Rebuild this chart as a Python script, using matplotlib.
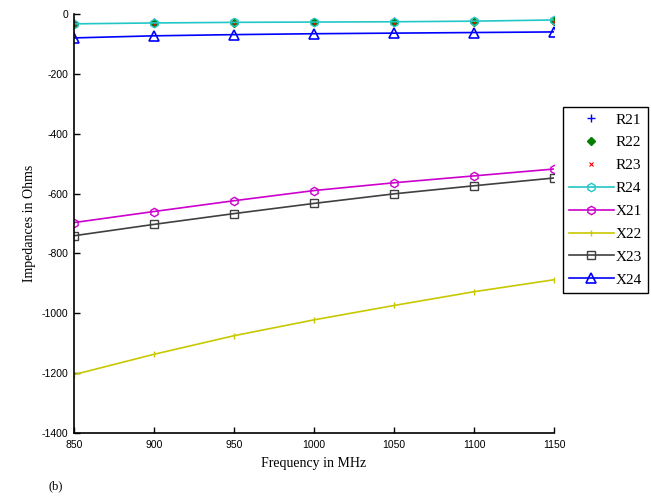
import matplotlib
matplotlib.use("Agg")
import matplotlib.pyplot as plt

plt.rcParams["axes.unicode_minus"] = False

# ── Data ──────────────────────────────────────────────────────────────────────
freq = [850, 900, 950, 1000, 1050, 1100, 1150]

r21 = [-30, -28, -27, -26, -25, -24, -22]
r22 = [-32, -30, -29, -28, -27, -26, -24]
r23 = [-35, -33, -31, -30, -29, -28, -26]
r24 = [-33, -30, -28, -27, -26, -24, -20]
x21 = [-697, -660, -624, -590, -564, -541, -518]
x22 = [-1205, -1137, -1075, -1022, -974, -928, -888]
x23 = [-741, -703, -667, -633, -601, -574, -548]
x24 = [-80, -73, -69, -66, -64, -62, -60]

yticks = [-1400, -1200, -1000, -800, -600, -400, -200, 0]

SERIF = ["Liberation Serif", "DejaVu Serif"]
SANS = ["Liberation Sans", "DejaVu Sans"]

fig = plt.figure(figsize=(6.51, 4.99), dpi=100, facecolor="white")
ax = fig.add_axes([0.1137, 0.1323, 0.7373, 0.8397])

ax.plot(freq, r21, linestyle="none", marker="+", color="#0000ff", ms=6, mew=1.0, label="R21")
ax.plot(freq, r22, linestyle="none", marker="D", color="#007f00", ms=4, label="R22")
ax.plot(freq, r23, linestyle="none", marker="x", color="#ff0000", ms=3.5, mew=0.8, label="R23")
ax.plot(freq, r24, color="#22c6c6", lw=1.2, marker="h", ms=6, mfc="none", mew=1.0, label="R24")
ax.plot(freq, x21, color="#cc00cc", lw=1.2, marker="h", ms=6, mfc="none", mew=1.0, label="X21")
ax.plot(freq, x22, color="#c8c800", lw=1.2, marker="|", ms=4, mew=1.0, label="X22")
ax.plot(freq, x23, color="#404040", lw=1.2, marker="s", ms=6, mfc="none", mew=1.0, label="X23")
ax.plot(freq, x24, color="#0000ff", lw=1.2, marker="^", ms=7, mfc="none", mew=1.2, label="X24")

ax.set_xlim(850, 1150)
ax.set_ylim(-1400, 0)
ax.set_xticks(freq)
ax.set_yticks(yticks)
ax.tick_params(direction="in", length=4, width=1, labelsize=7.5)
ax.tick_params(axis="x", pad=5)
ax.tick_params(axis="y", pad=4)
for lbl in ax.get_xticklabels() + ax.get_yticklabels():
    lbl.set_family(SANS)
for side in ("top", "right"):
    ax.spines[side].set_visible(False)
for side in ("left", "bottom"):
    ax.spines[side].set_linewidth(1.2)

ax.set_xlabel("Frequency in MHz", fontsize=10, family=SERIF, labelpad=5)
ax.set_ylabel("Impedances in Ohms", fontsize=10, family=SERIF, labelpad=4)

fig.legend(loc="upper left", bbox_to_anchor=(0.865, 0.786),
           prop={"family": SERIF, "size": 11}, frameon=True, fancybox=False,
           edgecolor="black", framealpha=1, borderpad=0.4, labelspacing=0.6,
           handlelength=2.9, handletextpad=0.15, borderaxespad=0)

fig.text(0.075, 0.02, "(b)", fontsize=9, family=SERIF)

fig.savefig("out.png", dpi=100, facecolor="white")
